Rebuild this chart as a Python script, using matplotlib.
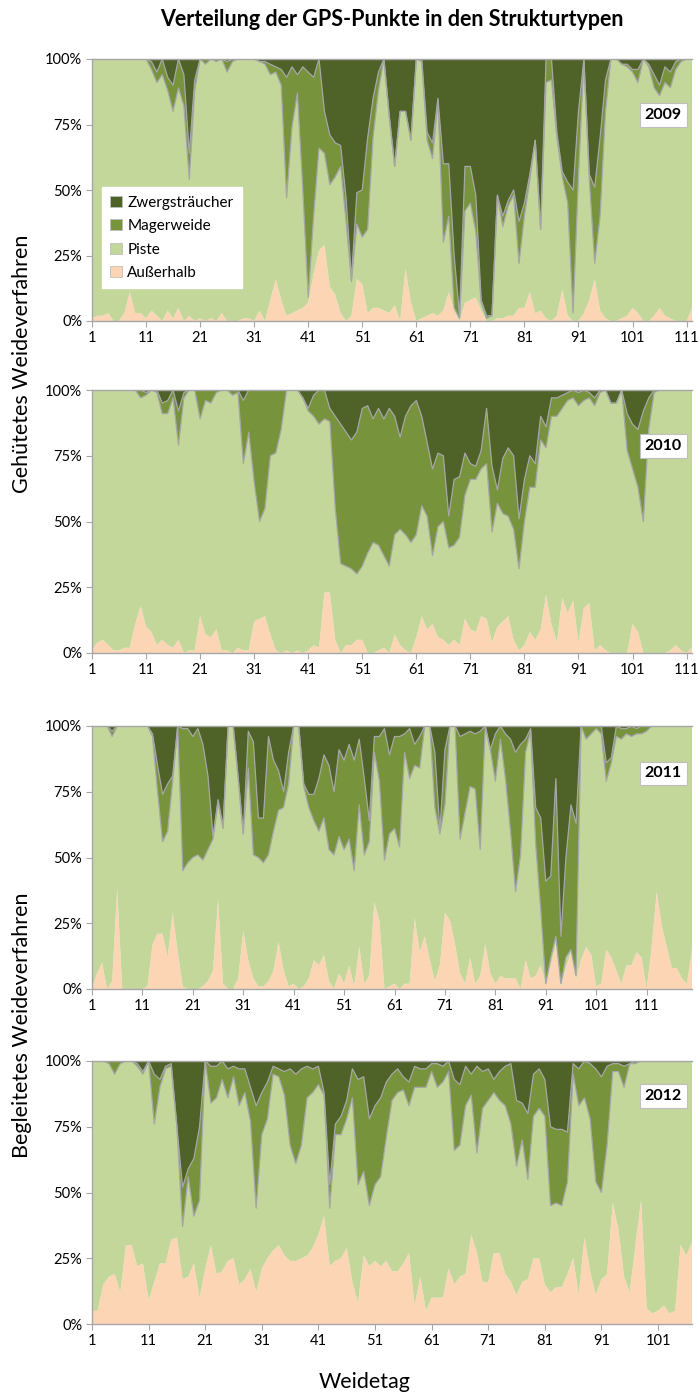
import numpy as np
import matplotlib
matplotlib.use("Agg")
import matplotlib.pyplot as plt
from matplotlib.patches import Patch
from matplotlib.ticker import FuncFormatter

plt.rcParams['font.family'] = ['Lato', 'DejaVu Sans']

series_names = ["Zwergsträucher", "Magerweide", "Piste", "Außerhalb"]
colors = {"Zwergsträucher": "#4F6228", "Magerweide": "#77933C",
          "Piste": "#C4D79B", "Außerhalb": "#FCD5B5"}

years = ["2009", "2010", "2011", "2012"]

# ---- 2009 (112 Weidetage) ----
aussen_2009 = [1,2,2,3,0,0,3,11,3,3, 1,4,2,0,4,1,5,0,2,0, 1,0,1,0,3,0,0,0,1,1,
               0,4,0,8,16,8,2,3,4,5, 7,18,27,29,13,10,3,0,2,16, 14,3,5,5,4,3,6,0,20,7,
               0,1,2,3,2,4,11,4,0,7, 8,9,4,0,0,1,1,2,2,5, 5,11,3,4,1,0,2,12,2,0,
               0,3,8,16,4,1,0,0,1,2, 5,3,0,0,2,5,2,1,0,0, 0,5]
piste_2009 = [99,98,98,97,100,100,97,89,97,97, 99,92,89,94,84,79,84,82,52,88, 99,98,99,99,97,95,99,100,99,99,
              100,95,98,86,79,82,45,71,83,45, 2,22,39,35,39,45,56,38,13,21, 18,32,65,83,96,75,53,80,60,62,
              100,98,67,59,82,26,29,1,1,35, 37,25,3,1,2,47,35,42,46,17, 35,43,66,31,90,92,68,43,43,3,
              55,97,46,6,36,79,100,100,97,95, 90,88,100,97,87,81,89,88,96,99, 100,95]
mager_2009 = [0,0,0,0,0,0,0,0,0,0, 0,3,4,6,5,10,11,12,10,4, 0,2,0,1,0,4,1,0,0,0,
              0,0,1,4,2,6,46,23,7,47, 86,53,34,16,19,13,8,9,1,12, 18,35,15,7,0,0,0,0,0,0,
              0,1,3,6,1,30,20,20,1,17, 14,14,1,1,0,0,4,2,2,16, 5,2,0,0,9,8,2,2,8,47,
              25,0,2,29,30,12,0,0,0,1, 1,5,0,1,5,4,6,6,3,1, 0,0]
zwerg_2009 = [0,0,0,0,0,0,0,0,0,0, 0,1,5,0,7,10,0,6,36,8, 0,0,0,0,0,1,0,0,0,0,
              0,1,1,2,3,4,7,3,6,3, 5,7,0,20,29,32,33,53,84,51, 50,30,15,5,0,22,41,20,20,31,
              0,0,28,32,15,40,40,75,98,41, 41,52,92,98,98,52,60,54,50,62, 55,44,31,65,0,0,28,43,47,50,
              20,0,44,49,30,8,0,0,2,2, 4,4,0,2,6,10,3,5,1,0, 0,0]

# ---- 2010 (112 Weidetage) ----
aussen_2010 = [1,4,5,3,1,1,2,2,11,18, 10,8,3,5,3,2,5,0,1,1, 14,7,6,9,1,1,0,2,1,1,
               12,13,14,7,1,0,1,0,1,0, 1,3,2,23,23,5,0,3,3,5, 5,0,0,1,2,0,7,3,1,0,
               6,14,9,11,6,5,3,5,3,13, 9,8,14,13,4,10,12,14,5,1, 3,8,5,9,22,11,4,21,15,20,
               4,17,19,1,3,1,0,0,0,0, 11,8,0,0,0,0,0,1,3,1, 0,2]
piste_2010 = [99,96,95,97,99,99,98,98,89,79, 88,92,96,86,88,95,74,97,99,99, 75,89,89,90,99,99,98,97,71,83,
              53,37,41,68,75,85,99,100,99,97, 91,87,85,66,65,50,34,30,29,25, 28,38,42,40,35,33,38,44,44,42,
              39,42,43,26,42,45,37,36,41,47, 57,58,56,59,42,47,41,38,42,31, 47,55,58,72,56,79,86,72,81,77,
              90,79,78,93,96,99,95,95,100,77, 59,55,50,85,99,100,100,99,97,99, 100,98]
mager_2010 = [0,0,0,0,0,0,0,0,0,3, 1,0,1,4,5,3,13,2,0,0, 11,4,5,1,0,0,2,1,24,16,
              35,50,45,25,24,15,0,0,0,0, 1,8,13,11,5,35,53,51,49,54, 60,56,47,52,52,60,45,35,45,52,
              51,34,28,33,28,25,12,25,23,16, 6,5,7,21,25,5,21,26,28,19, 16,12,9,9,8,7,7,5,3,3,
              5,4,2,3,1,0,0,0,0,14, 17,22,42,12,1,0,0,0,0,0, 0,0]
zwerg_2010 = [0,0,0,0,0,0,0,0,0,0, 1,0,0,5,4,0,8,1,0,0, 0,0,0,0,0,0,0,0,4,0,
              0,0,0,0,0,0,0,0,0,3, 7,2,0,0,7,10,13,16,19,16, 7,6,11,7,11,7,10,18,10,6,
              4,10,20,30,24,25,48,34,33,24, 28,29,23,7,29,38,26,22,25,49, 34,25,28,10,14,3,3,2,1,0,
              1,0,1,3,0,0,5,5,0,9, 13,15,8,3,0,0,0,0,0,0, 0,0]

# ---- 2011 (120 Weidetage) ----
aussen_2011 = [0,6,10,0,3,38,0,0,0,0, 0,1,17,21,21,12,29,14,1,0, 0,0,1,3,7,34,2,0,0,4,
               22,11,4,1,1,3,7,18,7,1, 2,0,1,4,11,9,13,3,0,6, 2,9,1,16,2,5,33,26,0,1,
               2,0,2,2,27,14,20,11,3,9, 29,26,17,6,2,12,2,5,17,6, 2,5,4,4,4,0,11,4,5,9,
               2,9,17,1,8,14,4,11,16,13, 1,2,15,12,7,2,9,9,14,12, 0,16,37,24,16,8,8,4,2,15]
piste_2011 = [100,94,90,100,93,62,100,100,100,100, 100,99,79,54,35,48,50,86,44,48, 50,51,48,50,50,37,59,100,100,76,
              37,73,47,49,47,48,53,50,62,77, 98,100,76,65,53,51,52,50,51,52, 51,48,44,54,49,51,57,53,49,58,
              59,54,88,78,58,70,80,89,66,50, 41,74,83,51,65,65,74,48,83,85, 77,90,76,56,33,51,79,94,50,21,
              0,3,3,1,4,1,1,89,79,84, 98,95,64,74,89,93,88,87,83,85, 98,84,63,76,84,92,92,96,98,85]
mager_2011 = [0,0,0,0,2,0,0,0,0,0, 0,0,1,10,18,18,2,0,54,51, 46,48,44,28,1,1,1,0,0,0,
              0,14,43,15,17,45,27,15,6,12, 0,0,1,5,10,20,24,32,24,33, 34,36,42,25,29,8,6,17,50,30,
              35,42,7,19,8,12,0,0,21,1, 21,0,0,39,30,21,21,45,0,0, 18,5,17,35,53,42,5,1,14,35,
              39,31,60,18,38,55,58,0,5,3, 1,3,7,2,4,4,2,4,2,3, 2,0,0,0,0,0,0,0,0,0]
zwerg_2011 = [0,0,0,0,2,0,0,0,0,0, 0,0,3,15,26,22,19,0,1,1, 4,1,7,19,42,28,38,0,0,20,
              41,2,6,35,35,4,13,17,25,10, 0,0,22,26,26,20,11,15,25,9, 13,7,13,5,20,36,4,4,1,11,
              4,4,3,1,7,4,0,0,10,40, 9,0,0,4,3,2,3,2,0,9, 3,0,3,5,10,7,5,1,31,35,
              59,57,20,80,50,30,37,0,0,0, 0,0,14,12,0,1,1,0,1,0, 0,0,0,0,0,0,0,0,0,0]

# ---- 2012 (107 Weidetage) ----
aussen_2012 = [5,5,15,18,19,12,30,30,22,23, 9,16,23,23,32,33,17,18,23,10, 21,30,19,20,24,25,15,17,21,12,
               21,25,28,30,26,24,24,25,26,29, 34,41,22,24,25,29,16,8,26,22, 24,22,24,20,20,23,27,7,18,5,
               10,10,10,21,15,18,19,34,27,16, 16,27,27,19,16,11,16,17,25,25, 15,12,14,14,19,25,11,33,20,11,
               17,19,46,36,18,12,30,47,6,4, 5,7,4,5,30,26,31]
piste_2012 = [95,95,85,81,76,87,70,70,76,72, 91,60,67,74,66,42,20,38,18,37, 79,54,67,73,62,69,68,71,56,32,
              51,53,67,64,61,44,37,43,60,59, 57,46,22,48,47,49,70,45,32,23, 29,34,47,65,68,66,56,83,72,85,
              86,80,82,75,51,50,64,53,38,66, 69,61,58,64,60,49,54,38,54,57, 64,33,32,31,35,70,72,53,58,43,
              33,49,50,60,72,87,69,53,94,96, 95,93,96,95,70,74,69]
mager_2012 = [0,0,0,1,5,1,0,0,1,1, 0,19,3,1,1,0,15,3,22,28, 0,14,12,7,11,4,14,9,13,39,
              16,14,3,3,9,29,34,29,12,9, 7,1,9,4,7,7,11,40,36,33, 30,30,21,10,9,5,9,8,7,7,
              3,9,6,4,27,23,15,8,33,14, 12,5,11,15,23,25,14,25,16,15, 14,30,28,29,19,4,14,14,21,43,
              44,30,3,3,8,0,1,0,0,0, 0,0,0,0,0,0,0]
zwerg_2012 = [0,0,0,0,0,0,0,0,1,4, 0,5,7,2,1,25,48,41,37,25, 0,2,2,0,3,2,3,3,10,17,
              12,8,2,3,4,3,5,3,2,3, 2,12,47,24,21,15,3,7,6,22, 17,14,8,5,3,6,8,2,3,3,
              1,1,2,0,7,9,2,5,2,4, 3,7,4,2,1,15,16,20,5,3, 7,25,26,26,27,1,3,0,1,3,
              6,2,1,1,2,1,0,0,0,0, 0,0,0,0,0,0,0]

data = {
    "2009": (aussen_2009, piste_2009, mager_2009, zwerg_2009),
    "2010": (aussen_2010, piste_2010, mager_2010, zwerg_2010),
    "2011": (aussen_2011, piste_2011, mager_2011, zwerg_2011),
    "2012": (aussen_2012, piste_2012, mager_2012, zwerg_2012),
}

title = "Verteilung der GPS-Punkte in den Strukturtypen"
ylabel_top = "Gehütetes Weideverfahren"
ylabel_bottom = "Begleitetes Weideverfahren"
xlabel = "Weidetag"

W, H = 700, 1399
fig = plt.figure(figsize=(W / 100, H / 100), dpi=100)

# panel pixel boxes (top, bottom) in figure pixels
panel_px = [(59, 321), (390, 653), (726, 989), (1061, 1324)]
left_px, right_px = 92, 692
year_pos = [0.786, 0.786, 0.82, 0.867]
grey = "#A6A6A6"

for i, yr in enumerate(years):
    top, bot = panel_px[i]
    ax = fig.add_axes([left_px / W, 1 - bot / H, (right_px - left_px) / W, (bot - top) / H])
    a, p, m, z = [np.asarray(v, dtype=float) for v in data[yr]]
    tot = a + p + m + z
    a, p, m, z = a / tot * 100, p / tot * 100, m / tot * 100, z / tot * 100
    n = len(a)
    days = np.arange(1, n + 1)
    ax.stackplot(days, a, p, m, z,
                 colors=[colors["Außerhalb"], colors["Piste"], colors["Magerweide"], colors["Zwergsträucher"]],
                 linewidth=0)
    ax.plot(days, a + p, color=grey, lw=0.9)
    ax.plot(days, a + p + m, color=grey, lw=0.9)
    ax.set_xlim(1, n)
    ax.set_ylim(0, 100)
    ax.set_yticks([0, 25, 50, 75, 100])
    ax.yaxis.set_major_formatter(FuncFormatter(lambda v, pos: f"{int(v)}%"))
    ax.set_xticks(np.arange(1, n + 1, 10))
    ax.spines["right"].set_visible(False)
    for side in ["left", "bottom", "top"]:
        ax.spines[side].set_color(grey)
        ax.spines[side].set_linewidth(1.0)
    ax.tick_params(axis="both", direction="out", length=4, color=grey, labelsize=10.5, pad=3)
    ax.text(0.952, year_pos[i], yr, transform=ax.transAxes, ha="center", va="center",
            fontsize=11.5, fontweight="bold",
            bbox=dict(boxstyle="square,pad=0.3", fc="white", ec="#BFBFBF", lw=0.8))
    if i == 0:
        handles = [Patch(facecolor=colors[s], edgecolor="#BFBFBF", linewidth=0.6) for s in series_names]
        ax.legend(handles, series_names, loc="upper left", bbox_to_anchor=(0.004, 0.54),
                  frameon=True, fancybox=False, framealpha=1, edgecolor="white",
                  fontsize=11, handlelength=0.75, handleheight=0.75, labelspacing=0.62,
                  borderpad=0.55, handletextpad=0.35, borderaxespad=0.5)

fig.text(392 / W, 1 - 20 / H, title, ha="center", va="center", fontsize=15.5, fontweight="bold")
fig.text(22 / W, 1 - 364 / H, ylabel_top, ha="center", va="center", rotation=90, fontsize=15.5)
fig.text(22 / W, 1 - 1025 / H, ylabel_bottom, ha="center", va="center", rotation=90, fontsize=15.5)
fig.text(365 / W, 1 - 1382 / H, xlabel, ha="center", va="center", fontsize=15.5)

fig.savefig("out.png", dpi=100)
